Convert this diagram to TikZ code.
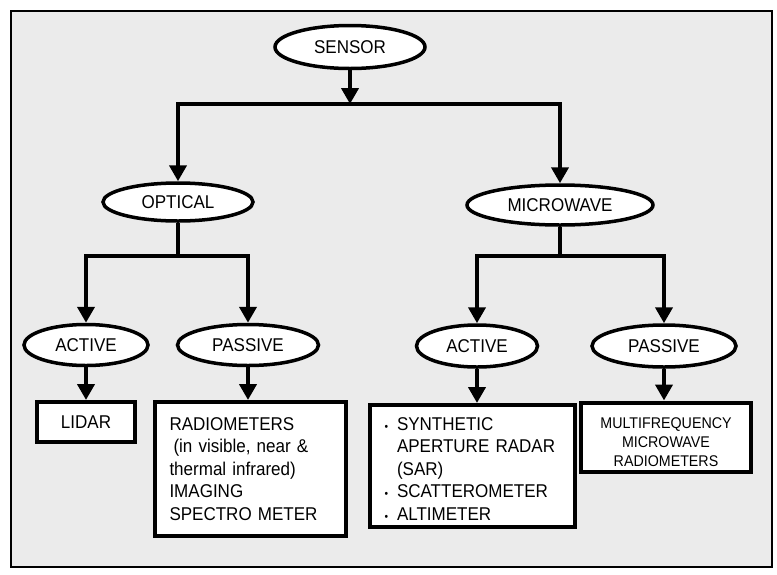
\documentclass[tikz,border=0pt]{standalone}
\usepackage{fontspec}
\setmainfont[FakeStretch=0.92]{Liberation Sans}
\usetikzlibrary{arrows.meta,shapes.geometric,positioning}
\definecolor{panelgray}{RGB}{235,235,235}
\newcommand{\bul}{\makebox[12.5pt][l]{\fontsize{11}{11}\selectfont\textbullet}}

\begin{document}
\begin{tikzpicture}[x=1pt,y=-1pt,
        every node/.style={font=\fontsize{18.5}{22.5}\selectfont},
        oval/.style={ellipse,draw,line width=3.5pt,fill=white,inner sep=0pt},
        box/.style={rectangle,draw,line width=4pt,fill=white,inner sep=0pt},
        link/.style={line width=4pt},
        arr/.style={link,-{Triangle[length=16pt,width=17pt]}}]
        \useasboundingbox (0,0) rectangle (777,574);
        \draw[fill=panelgray,line width=1.2pt] (11,11) rectangle (772,567);

        \node[oval,minimum width=150pt,minimum height=43pt] (sensor) at (350,47) {SENSOR};
        \node[oval,minimum width=150pt,minimum height=38pt] (optical) at (178,202) {OPTICAL};
        \node[oval,minimum width=186pt,minimum height=40pt] (microwave) at (560,205) {MICROWAVE};
        \node[oval,minimum width=124pt,minimum height=41pt] (oactive) at (86,345) {ACTIVE};
        \node[oval,minimum width=141pt,minimum height=41pt] (opassive) at (248,345) {PASSIVE};
        \node[oval,minimum width=121pt,minimum height=42pt] (mactive) at (477,346) {ACTIVE};
        \node[oval,minimum width=144pt,minimum height=42pt] (mpassive) at (664,346) {PASSIVE};

        \node[box,minimum width=98pt,minimum height=40pt] (lidar) at (86,422) {LIDAR};
        \node[box,minimum width=191pt,minimum height=134pt,align=left,text width=161pt] (radbox) at (250,469)
            {RADIOMETERS\\\hspace*{4pt}(in visible, near \&\\thermal infrared)\\IMAGING\\SPECTRO METER};
        \node[box,minimum width=205pt,minimum height=122pt,align=left,text width=175pt] (sarbox) at (472,466)
            {\rule{0pt}{18pt}\bul SYNTHETIC\\\hspace*{12.5pt}APERTURE RADAR\\\hspace*{12.5pt}(SAR)\\\bul SCATTEROMETER\\\bul ALTIMETER};
        \node[box,minimum width=170pt,minimum height=69pt,align=center,font=\fontsize{15.5}{19}\selectfont] (multibox) at (666,437)
            {\rule{0pt}{21pt}MULTIFREQUENCY\\MICROWAVE\\RADIOMETERS};

        \coordinate (split) at (350,104);
        \coordinate (osplit) at (178,256);
        \coordinate (msplit) at (560,256);

        \draw[arr] (sensor) -- (split);
        \draw[arr] (split) -| (optical);
        \draw[arr] (split) -| (microwave);

        \draw[link] (optical) -- (osplit);
        \draw[arr] (osplit) -| (oactive);
        \draw[arr] (osplit) -| (opassive);
        \draw[link] (microwave) -- (msplit);
        \draw[arr] (msplit) -| (mactive);
        \draw[arr] (msplit) -| (mpassive);

        \draw[arr] (oactive) -- (lidar);
        \draw[arr] (opassive) -- (opassive |- radbox.north);
        \draw[arr] (mactive) -- (mactive |- sarbox.north);
        \draw[arr] (mpassive) -- (mpassive |- multibox.north);
    \end{tikzpicture}
\end{document}
